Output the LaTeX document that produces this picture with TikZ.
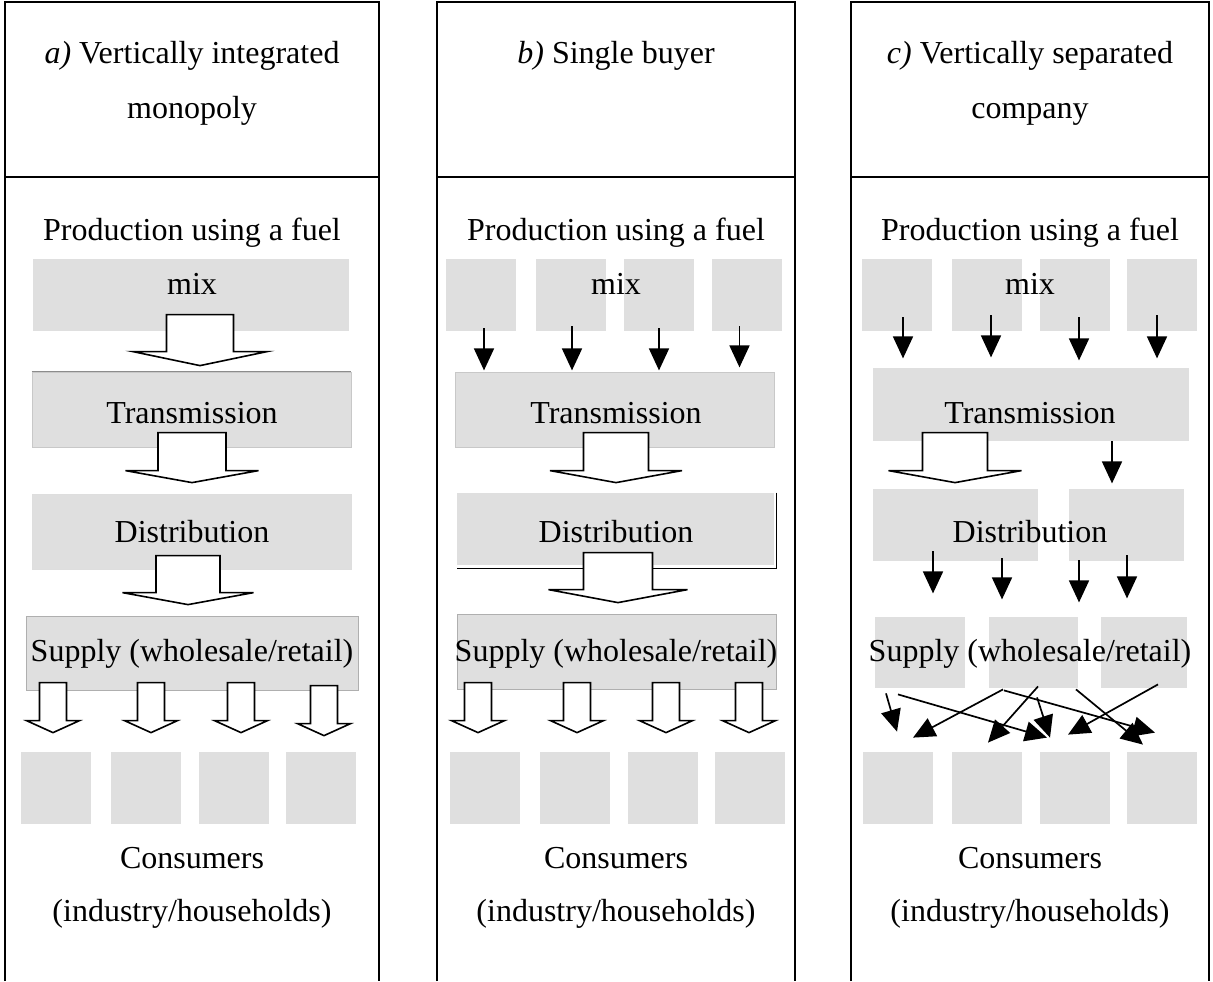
\documentclass[tikz,border=0pt]{standalone}
\usepackage{fontspec}
\setmainfont{Liberation Serif}
\usetikzlibrary{arrows.meta,calc}
\definecolor{fillgray}{HTML}{DFDFDF}
\definecolor{edgegray}{HTML}{C8C8C8}
\definecolor{darkedge}{HTML}{8C8C8C}

% hollow block arrow: tip, stem half width, wing half width, stem length, head depth
\newcommand\blockarrow[5]{%
  \draw[fat] #1 -- ++(#3,-#5) -- ++(#2-#3,0) -- ++(0,-#4) -- ++(-2*#2,0)
    -- ++(0,#4) -- ++(#2-#3,0) -- cycle;}

\begin{document}
\begin{tikzpicture}[x=0.5pt,y=-0.5pt,
  every node/.style={font=\fontsize{16}{19}\selectfont},
  gbox/.style 2 args={fill=fillgray,inner sep=0,minimum width=#1*0.5pt,minimum height=#2*0.5pt},
  lbl/.style={anchor=base,inner sep=0},
  panelline/.style={line width=1.3pt},
  fat/.style={draw=black,fill=white,line width=0.8pt},
  thinarr/.style={line width=0.85pt,-{Triangle[length=11pt,width=10pt]}},
]
  \useasboundingbox (0,0) rectangle (1213,981);

  % panel frames
  \foreach \l/\r in {5/379,437/795,851/1209}{
    \draw[panelline] (\l,981) -- (\l,2) -- (\r,2) -- (\r,981);
    \draw[panelline] (\l,177) -- (\r,177);
  }

  % a) vertically integrated monopoly
  \node[gbox={316}{72}] (pa) at (191,295) {};
  \node[gbox={319}{75},draw=edgegray,line width=0.4pt] (ta) at (191.5,409.5) {};
  \draw[darkedge,line width=0.8pt] (ta.north west) -- (ta.north east);
  \node[gbox={319}{75},draw=edgegray!60,line width=0.4pt] (da) at (191.5,531.5) {};
  \node[gbox={332}{74},draw=darkedge!70,line width=0.4pt] (sa) at (192,653) {};
  \foreach \i/\x in {1/56,2/145.5,3/234,4/321}
    \node[gbox={70}{72}] (ca\i) at (\x,788) {};

  % b) single buyer
  \foreach \i/\x in {1/481,2/571,3/659,4/746.5}
    \node[gbox={70}{72}] (pb\i) at (\x,295) {};
  \node[gbox={319}{75},draw=edgegray,line width=0.4pt] (tb) at (614.5,409.5) {};
  \node[gbox={317}{72}] (db) at (615.5,529) {};
  \draw[line width=0.8pt] ($(db.north east)+(2,0)$) |- ($(db.south west)+(0,3)$);
  \node[gbox={319}{75},draw=darkedge!70,line width=0.4pt] (sb) at (616.5,651.5) {};
  \foreach \i/\x in {1/485,2/575,3/663,4/750}
    \node[gbox={70}{72}] (cb\i) at (\x,788) {};

  % c) vertically separated company
  \foreach \i/\x in {1/897,2/987,3/1075,4/1162}
    \node[gbox={70}{72}] (pc\i) at (\x,295) {};
  \node[gbox={316}{73}] (tc) at (1031,404.5) {};
  \node[gbox={165}{72}] (dc1) at (955.5,525) {};
  \node[gbox={115}{72}] (dc2) at (1126.5,525) {};
  \node[gbox={90}{71}] (sc1) at (920,652.5) {};
  \node[gbox={89}{71}] (sc2) at (1033.5,652.5) {};
  \node[gbox={86}{71}] (sc3) at (1144,652.5) {};
  \foreach \i/\x in {1/897.5,2/987,3/1075,4/1162}
    \node[gbox={70}{72}] (cc\i) at (\x,788) {};

  % headings
  \node[lbl] (ha1) at (192,63) {\textit{a)} Vertically integrated};
  \node[lbl] (ha2) at (192,118) {monopoly};
  \node[lbl] (hb) at (616,63) {\textit{b)} Single buyer};
  \node[lbl] (hc1) at (1030,63) {\textit{c)} Vertically separated};
  \node[lbl] (hc2) at (1030,118) {company};

  % stage labels
  \foreach \p/\cx in {a/192,b/616,c/1030}{
    \node[lbl] (prod\p) at (\cx,240) {Production using a fuel};
    \node[lbl] (mix\p) at (\cx,294) {mix};
    \node[lbl] (trans\p) at (\cx,423) {Transmission};
    \node[lbl] (dist\p) at (\cx,542) {Distribution};
    \node[lbl] (supp\p) at (\cx,661) {Supply (wholesale/retail)};
    \node[lbl] (cons\p) at (\cx,868) {Consumers};
    \node[lbl] (ind\p) at (\cx,921) {(industry/households)};
  }

  % block arrows
  \blockarrow{($(ta.north)+(8.5,-6)$)}{33.5}{67}{37}{14}
  \blockarrow{($(da.north)+(0.5,-11)$)}{34}{66.5}{38}{12}
  \blockarrow{($(sa.north)+(-4,-11)$)}{32}{65.5}{37}{12}
  \foreach \i/\dx/\dy in {1/-3/-19,2/5.5/-19,3/7/-19,4/3/-16}{
    \blockarrow{($(ca\i.north)+(\dx,\dy)$)}{13.5}{26.5}{38}{12}
  }

  \blockarrow{($(db.north)+(0.5,-10)$)}{32.5}{66}{38}{12}
  \blockarrow{($(sb.north)+(1.5,-11)$)}{34.5}{69.5}{37}{13}
  \foreach \i/\dx in {1/-7,2/2,3/3,4/-1}{
    \blockarrow{($(cb\i.north)+(\dx,-19)$)}{13.5}{26.5}{38}{12}
  }

  \blockarrow{($(dc1.north)+(-0.5,-6)$)}{32.5}{66.5}{38}{12}

  % thin arrows
  \foreach \i/\dx/\dy/\len in {1/3/-3/42,2/1/-5/44,3/0/-3/42,4/-7/-5/41}
    \draw[thinarr] ($(pb\i.south)+(\dx,\dy)$) -- ++(0,\len);
  \foreach \i/\dx/\dy/\len in {1/6/-14/41,2/4/-16/42,3/4/-14/43,4/-5/-16/43}
    \draw[thinarr] ($(pc\i.south)+(\dx,\dy)$) -- ++(0,\len);
  \draw[thinarr] ($(tc.south)+(81,0)$) -- ++(0,42);
  \foreach \n/\dx/\dy/\len in {dc1/-22.5/-10/42,dc1/46.5/-3/41,dc2/-47.5/-1/42,dc2/0.5/-6/43}
    \draw[thinarr] ($(\n.south)+(\dx,\dy)$) -- ++(0,\len);
  \foreach \s/\sx/\sy/\t/\tx/\ty in {sc1/-34/5/cc1/-0.5/-20, sc1/-22/6/cc3/-28/-14,
      sc2/-30.5/1/cc1/15.5/-14, sc2/4.5/-2/cc2/1/-9, sc2/3.5/9/cc3/-25/-14,
      sc2/-29.5/2/cc4/-7/-19, sc2/42.5/1/cc4/-19/-7, sc3/14/-4/cc3/-7/-17}
    \draw[thinarr] ($(\s.south)+(\sx,\sy)$) -- ($(\t.north)+(\tx,\ty)$);
\end{tikzpicture}
\end{document}
